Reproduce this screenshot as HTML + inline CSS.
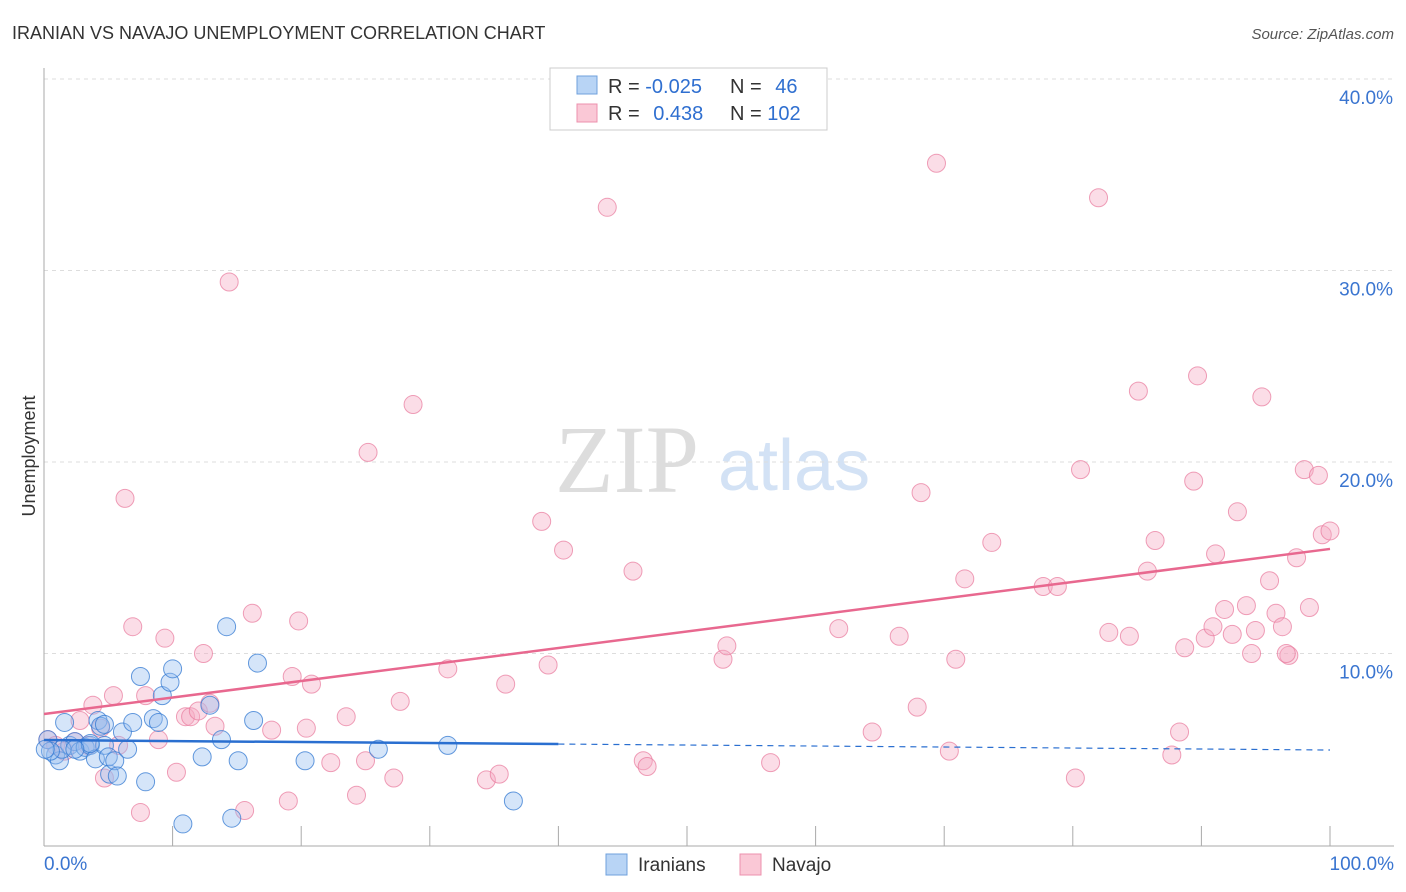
<!DOCTYPE html>
<html><head><meta charset="utf-8">
<style>
body{margin:0;background:#fff;font-family:"Liberation Sans",sans-serif;}
#wrap{position:relative;width:1406px;height:892px;overflow:hidden;}
</style></head>
<body>
<div id="wrap">
<svg id="svg" width="1406" height="892" xmlns="http://www.w3.org/2000/svg">
<text x="12" y="39" font-size="18" fill="#333">IRANIAN VS NAVAJO UNEMPLOYMENT CORRELATION CHART</text>
<text x="1394" y="39" font-size="15" fill="#555" font-style="italic" text-anchor="end">Source: ZipAtlas.com</text>
<text x="35" y="456" font-size="18" fill="#333" transform="rotate(-90 35 456)" text-anchor="middle">Unemployment</text>
<text x="555" y="492" font-size="96" fill="#ddd" font-family="Liberation Serif,serif">ZIP</text>
<text x="718" y="490" font-size="72" fill="#d3e2f5">atlas</text>
<g id="grid"></g><g id="pts"></g><g id="lines"></g>
<g>
<rect x="550" y="68" width="277" height="62" fill="#fff" stroke="#ccc"/>
<rect x="577" y="76" width="20" height="18" fill="#b8d4f5" stroke="#6fa0dc"/>
<rect x="577" y="104" width="20" height="18" fill="#fac8d6" stroke="#ec90ad"/>
<text x="608" y="93" font-size="20" fill="#333">R = <tspan fill="#2f6fd0">-0.025</tspan></text>
<text x="730" y="93" font-size="20" fill="#333">N = <tspan fill="#2f6fd0" dx="8">46</tspan></text>
<text x="608" y="120" font-size="20" fill="#333">R = <tspan fill="#2f6fd0" dx="8">0.438</tspan></text>
<text x="730" y="120" font-size="20" fill="#333">N = <tspan fill="#2f6fd0">102</tspan></text>
</g>
<g>
<rect x="606" y="854" width="21" height="21" fill="#b8d4f5" stroke="#6fa0dc"/>
<text x="638" y="871" font-size="19" fill="#333">Iranians</text>
<rect x="740" y="854" width="21" height="21" fill="#fac8d6" stroke="#ec90ad"/>
<text x="772" y="871" font-size="19" fill="#333">Navajo</text>
</g>
</svg>
</div>
<script>
const yTicks=[10,20,30,40];
const xTickLabels=["0.0%","100.0%"];
const blueX=[0.3,0.9,1.2,1.6,2.0,2.4,2.8,3.2,3.6,4.0,4.2,4.4,4.7,5.0,5.1,5.5,5.7,6.1,6.5,6.9,7.5,7.9,8.5,8.9,9.2,9.8,10.0,10.8,12.3,12.9,13.8,14.2,14.6,15.1,16.3,16.6,20.3,26.0,31.4,36.5,4.7,3.6,1.4,0.5,2.4,0.1];
const blueY=[5.5,4.7,4.4,6.4,5.2,5.4,4.9,5.1,5.2,4.5,6.5,6.2,5.2,4.6,3.7,4.4,3.6,5.9,5.0,6.4,8.8,3.3,6.6,6.4,7.8,8.5,9.2,1.1,4.6,7.3,5.5,11.4,1.4,4.4,6.5,9.5,4.4,5.0,5.2,2.3,6.3,5.3,5.0,4.9,5.0,5.0];
const pinkX=[0.3,0.9,1.6,2.4,2.8,3.4,3.8,4.4,4.7,5.4,5.8,6.3,6.9,7.5,7.9,8.9,9.4,10.3,11.0,11.4,12.0,12.4,12.9,13.3,14.4,15.6,16.2,17.7,19.0,19.3,19.8,20.4,20.8,22.3,23.5,24.3,25.0,25.2,27.2,27.7,28.7,31.4,34.4,35.4,35.9,38.7,39.2,40.4,43.8,45.8,46.6,46.9,52.8,53.1,56.5,61.8,64.4,66.5,67.9,68.2,69.4,70.4,70.9,71.6,73.7,77.7,78.8,80.2,80.6,82.0,82.8,84.4,85.1,85.8,86.4,87.7,88.3,88.7,89.4,89.7,90.3,90.9,91.1,91.8,92.4,92.8,93.5,93.9,94.2,94.7,95.3,95.8,96.3,96.8,97.4,98.0,98.4,99.1,99.4,100,96.6];
const pinkY=[5.5,5.2,4.9,5.4,6.5,5.2,7.3,6.1,3.5,7.8,5.2,18.1,11.4,1.7,7.8,5.5,10.8,3.8,6.7,6.7,7.0,10.0,7.4,6.2,29.4,1.8,12.1,6.0,2.3,8.8,11.7,6.1,8.4,4.3,6.7,2.6,4.4,20.5,3.5,7.5,23.0,9.2,3.4,3.7,8.4,16.9,9.4,15.4,33.3,14.3,4.4,4.1,9.7,10.4,4.3,11.3,5.9,10.9,7.2,18.4,35.6,4.9,9.7,13.9,15.8,13.5,13.5,3.5,19.6,33.8,11.1,10.9,23.7,14.3,15.9,4.7,5.9,10.3,19.0,24.5,10.8,11.4,15.2,12.3,11.0,17.4,12.5,10.0,11.2,23.4,13.8,12.1,11.4,9.9,15.0,19.6,12.4,19.3,16.2,16.4,10.0];
const blueTrend=[5.48,4.96];
const pinkTrend=[6.84,15.46];
const NS="http://www.w3.org/2000/svg";
const X=v=>44+v*12.86, Y=v=>845-v*19.15;
function mk(t,a,p){const e=document.createElementNS(NS,t);for(const k in a)e.setAttribute(k,a[k]);p.appendChild(e);return e;}
const grid=document.getElementById('grid');
yTicks.forEach(t=>{
 const l=mk('line',{x1:44,x2:1394,y1:Y(t),y2:Y(t),stroke:'#ddd','stroke-dasharray':'4,4'},grid);
 
 
 const tx=mk('text',{x:1393,y:Y(t)+25,'font-size':19,fill:'#3a75d0','text-anchor':'end'},grid);
 tx.textContent=t.toFixed(1)+'%';
 
 
});
mk('line',{x1:44,x2:44,y1:68,y2:846,stroke:'#aaa'},grid);
mk('line',{x1:44,x2:1394,y1:846,y2:846,stroke:'#aaa'},grid);
for(let i=1;i<=10;i++){mk('line',{x1:X(i*10),x2:X(i*10),y1:826,y2:846,stroke:'#aaa'},grid);}
const xl0=mk('text',{x:44,y:870,'font-size':19,fill:'#3a75d0'},grid);xl0.textContent=xTickLabels[0];


const xl1=mk('text',{x:1394,y:870,'font-size':19,fill:'#3a75d0','text-anchor':'end'},grid);xl1.textContent=xTickLabels[1];


const pts=document.getElementById('pts');
pinkX.forEach((x,i)=>{const c=mk('circle',{cx:X(x),cy:Y(pinkY[i]),r:9,fill:'rgba(246,170,195,0.4)',stroke:'rgba(232,120,155,0.7)','stroke-width':1},pts);
 
 });
blueX.forEach((x,i)=>{const c=mk('circle',{cx:X(x),cy:Y(blueY[i]),r:9,fill:'rgba(150,190,240,0.4)',stroke:'rgba(50,120,210,0.75)','stroke-width':1},pts);
 
 });
const ln=document.getElementById('lines');
const pl=mk('line',{x1:X(0),y1:Y(pinkTrend[0]),x2:X(100),y2:Y(pinkTrend[1]),stroke:'#e8688f','stroke-width':2.5},ln);


const bAt=v=>blueTrend[0]+(blueTrend[1]-blueTrend[0])*v/100;
const bl=mk('line',{x1:X(0),y1:Y(bAt(0)),x2:X(40),y2:Y(bAt(40)),stroke:'#2a6fd0','stroke-width':2.5},ln);


const bd=mk('line',{x1:X(40),y1:Y(bAt(40)),x2:X(100),y2:Y(bAt(100)),stroke:'#2a6fd0','stroke-width':1.2,'stroke-dasharray':'6,5'},ln);


</script>
</body></html>
